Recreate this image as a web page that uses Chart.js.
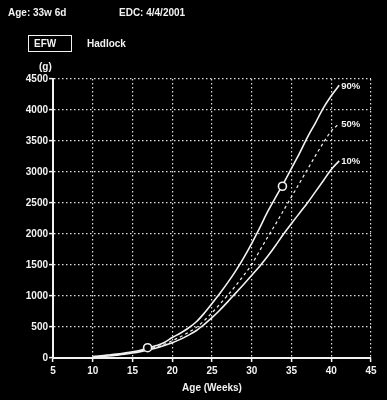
<!DOCTYPE html>
<html>
<head>
<meta charset="utf-8">
<script src="https://cdn.jsdelivr.net/npm/chart.js@4"></script>
<style>
  html, body { margin: 0; padding: 0; background: #000; }
  #wrap { position: relative; width: 387px; height: 400px; background: #000; overflow: hidden; }
  canvas { position: absolute; left: 0; top: 0; }
  .t { position: absolute; color: #f2f2f2; font: bold 10px "Liberation Sans", Arial, sans-serif; white-space: nowrap; line-height: 12px; }
  #efwbox { position: absolute; left: 28px; top: 35px; width: 42px; height: 15px; border: 1.5px solid #f2f2f2; }
</style>
</head>
<body>
<div id="wrap">
  <canvas id="c" width="387" height="400"></canvas>
  <div class="t" style="left:8px; top:7px;">Age: 33w 6d</div>
  <div class="t" style="left:119px; top:7px;">EDC: 4/4/2001</div>
  <div id="efwbox"></div>
  <div class="t" style="left:34px; top:38px;">EFW</div>
  <div class="t" style="left:87px; top:38px;">Hadlock</div>
  <div class="t" style="left:39px; top:61px;">(g)</div>
</div>
<script>
// Data
const weeks = [10,11,12,13,14,15,16,17,18,19,20,21,22,23,24,25,26,27,28,29,30,31,32,33,34,35,36,37,38,39,40,41];
const p90 = [25,35,48,62,80,100,125,160,200,250,330,400,480,580,720,880,1045,1220,1410,1620,1850,2100,2360,2590,2820,3060,3300,3560,3790,4030,4230,4400];
const p50 = [20,28,40,53,70,90,113,143,178,222,280,340,410,490,600,730,870,1015,1170,1335,1510,1730,1950,2160,2380,2600,2820,3040,3260,3470,3660,3780];
const p10 = [15,22,32,45,60,80,103,130,162,200,245,300,365,440,540,650,775,910,1050,1190,1335,1480,1640,1815,2000,2170,2335,2500,2680,2860,3040,3180];
const measWeeks = [16.9, 33.86];
const measEFW = [166, 2770];
const curveLabels = ['90%', '50%', '10%'];
const xTicks = [5,10,15,20,25,30,35,40,45];
const yTicks = [0,500,1000,1500,2000,2500,3000,3500,4000,4500];

const toPts = (xs, ys) => xs.map((x, i) => ({x: x, y: ys[i]}));
const FONT = {family: '"Liberation Sans", Arial, sans-serif', size: 10, weight: 'bold'};
const WHITE = '#f2f2f2';

const endLabels = {
  id: 'endLabels',
  afterDatasetsDraw(chart) {
    const ctx = chart.ctx;
    const xs = chart.scales.x, ys = chart.scales.y;
    const series = [p90, p50, p10];
    ctx.save();
    ctx.fillStyle = WHITE;
    ctx.font = 'bold 9.5px "Liberation Sans", Arial, sans-serif';
    ctx.textAlign = 'left';
    ctx.textBaseline = 'middle';
    series.forEach((s, i) => {
      const px = xs.getPixelForValue(weeks[weeks.length - 1]);
      const py = ys.getPixelForValue(s[s.length - 1]);
      ctx.fillText(curveLabels[i], px + 2, py + 1);
    });
    ctx.restore();
  }
};

const lineBase = {pointRadius: 0, borderColor: WHITE, fill: false, cubicInterpolationMode: 'monotone'};

new Chart(document.getElementById('c'), {
  type: 'line',
  data: {
    datasets: [
      Object.assign({label: '90%', data: toPts(weeks, p90), borderWidth: 1.6}, lineBase),
      Object.assign({label: '50%', data: toPts(weeks, p50), borderWidth: 1.2, borderDash: [3, 3]}, lineBase),
      Object.assign({label: '10%', data: toPts(weeks, p10), borderWidth: 1.6}, lineBase),
      {label: 'EFW', type: 'scatter', data: toPts(measWeeks, measEFW), showLine: false,
       pointRadius: 4, pointBorderWidth: 1.6, pointBorderColor: WHITE, pointBackgroundColor: '#000', order: -1}
    ]
  },
  options: {
    responsive: false,
    animation: false,
    layout: {padding: {left: 0, top: 79, right: 16, bottom: 0}},
    plugins: {legend: {display: false}, tooltip: {enabled: false}, title: {display: false}},
    scales: {
      x: {
        type: 'linear', min: 5, max: 45,
        afterBuildTicks: s => { s.ticks = xTicks.map(v => ({value: v})); },
        afterFit: s => { s.height = 42; },
        grid: {
          color: c => (c.tick && c.tick.value === 5) ? 'rgba(0,0,0,0)' : '#e0e0e0',
          lineWidth: 1.2, drawTicks: true, tickLength: 4, tickColor: WHITE, tickWidth: 1.5, tickBorderDash: []
        },
        border: {display: true, color: WHITE, width: 2, dash: [1.5, 2.5]},
        ticks: {color: WHITE, font: FONT, padding: 3, maxRotation: 0, autoSkip: false, callback: v => String(v)},
        title: {display: true, text: 'Age (Weeks)', color: WHITE, font: FONT, padding: {top: 0, bottom: 6}}
      },
      y: {
        type: 'linear', min: 0, max: 4500,
        afterBuildTicks: s => { s.ticks = yTicks.map(v => ({value: v})); },
        afterFit: s => { s.width = 53; },
        grid: {
          color: c => (c.tick && c.tick.value === 0) ? 'rgba(0,0,0,0)' : '#e0e0e0',
          lineWidth: 1.2, drawTicks: true, tickLength: 4, tickColor: WHITE, tickWidth: 1.5, tickBorderDash: []
        },
        border: {display: true, color: WHITE, width: 2, dash: [1.5, 2.5]},
        ticks: {color: WHITE, font: FONT, padding: 1, autoSkip: false, callback: v => String(v)}
      }
    }
  },
  plugins: [endLabels]
});
</script>
</body>
</html>
